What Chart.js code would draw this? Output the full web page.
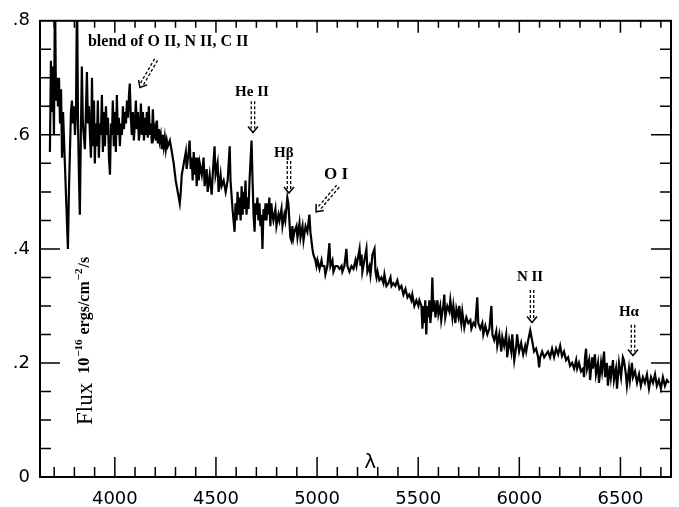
<!DOCTYPE html>
<html>
<head>
<meta charset="utf-8">
<script src="https://cdn.jsdelivr.net/npm/chart.js@4"></script>
<style>
  html, body { margin: 0; padding: 0; background: #fff; }
</style>
</head>
<body>
<canvas id="myChart" width="679" height="507"></canvas>
<script>
// spectrum: wavelength (Angstrom) and flux (1e-16 erg/cm2/s)
var wavelength = [
  3679, 3684, 3689, 3694, 3699, 3704, 3709, 3714, 3719, 3724, 3729, 3734, 3739, 3744, 3753, 3763, 3768, 3773,
  3783, 3788, 3793, 3798, 3803, 3808, 3813, 3818, 3823, 3827, 3832, 3837, 3842, 3852, 3862, 3867, 3872, 3877,
  3882, 3887, 3892, 3897, 3901, 3906, 3911, 3916, 3921, 3926, 3931, 3936, 3941, 3946, 3951, 3956, 3961, 3966,
  3971, 3976, 3981, 3986, 3990, 3995, 4000, 4005, 4010, 4015, 4020, 4025, 4030, 4035, 4040, 4045, 4050, 4055,
  4060, 4065, 4070, 4074, 4079, 4084, 4089, 4094, 4099, 4104, 4109, 4114, 4119, 4124, 4129, 4134, 4139, 4144,
  4149, 4153, 4158,
  4163, 4168, 4173, 4178, 4183, 4188, 4193, 4198, 4203, 4208, 4213, 4218, 4222, 4227, 4232, 4237, 4242, 4247,
  4252, 4257, 4262, 4272, 4282, 4291, 4301, 4311, 4321,
  4326, 4331, 4341, 4351, 4355, 4365, 4370, 4375, 4380, 4385, 4390, 4395, 4400, 4405, 4410, 4415, 4420, 4430,
  4439, 4444, 4454, 4459, 4469, 4479, 4484, 4493, 4498, 4508, 4513, 4523, 4528, 4538, 4548, 4558, 4568, 4572,
  4582, 4592, 4597, 4602, 4607, 4612, 4617, 4622, 4627, 4632, 4636, 4641, 4646, 4651, 4656, 4661, 4666, 4676,
  4681, 4686, 4691, 4695, 4700, 4705, 4710, 4715, 4720, 4725, 4730, 4735, 4740, 4745, 4750, 4754, 4759, 4764,
  4769, 4774, 4779, 4784, 4794, 4799, 4809, 4814, 4824, 4829, 4838, 4843, 4853, 4858, 4863, 4868, 4873, 4878,
  4883, 4888, 4898, 4903, 4913, 4918, 4928, 4933, 4943, 4952, 4962, 4967, 4977, 4982, 4992, 4997, 5002, 5012,
  5022, 5026, 5036, 5041, 5051, 5061, 5066, 5076, 5081, 5091, 5101, 5111, 5121, 5125, 5135, 5145, 5150, 5160,
  5170, 5180, 5190, 5195, 5205, 5210, 5215, 5220, 5224, 5234, 5244, 5249, 5259, 5264, 5274, 5284, 5289, 5294,
  5299, 5308, 5318, 5328, 5333, 5343, 5353, 5363, 5368, 5377, 5387, 5397, 5407, 5417, 5427, 5437, 5447, 5456,
  5466, 5471, 5481, 5491, 5501, 5506, 5516, 5521, 5526, 5530, 5535, 5540, 5545, 5550, 5555, 5560, 5565, 5570,
  5575, 5580, 5585, 5595, 5600, 5609, 5614, 5624, 5629, 5634, 5644, 5654, 5659, 5669, 5674, 5684, 5689, 5699,
  5703, 5713, 5718, 5728, 5738, 5748, 5758, 5763, 5773, 5782, 5792, 5797, 5807, 5817, 5822, 5832, 5842, 5852,
  5862, 5867, 5876, 5886, 5891, 5901, 5911, 5916, 5925, 5935, 5940, 5950, 5960, 5965, 5975, 5985, 5989, 5999,
  6009, 6019, 6029, 6034, 6044, 6054, 6063, 6073, 6083, 6093, 6098, 6103, 6113, 6123, 6132, 6142, 6152, 6162,
  6172, 6182, 6192, 6202, 6211, 6221, 6231, 6241, 6251, 6261, 6271, 6281, 6286, 6295, 6305, 6315, 6320, 6325,
  6330, 6335, 6345, 6350, 6360, 6364, 6374, 6379, 6389, 6394, 6404, 6409, 6419, 6424, 6433, 6438, 6448, 6453,
  6463, 6468, 6478, 6483, 6493, 6503, 6512, 6517, 6527, 6532, 6542, 6547, 6557, 6562, 6572, 6582, 6592, 6601,
  6611, 6621, 6631, 6641, 6651, 6661, 6671, 6680, 6690, 6700, 6710, 6720, 6730, 6740
];
var flux = [
  0.57, 0.73, 0.64, 0.72, 0.60, 0.86, 0.66, 0.70, 0.65, 0.70, 0.62, 0.68, 0.56, 0.64, 0.55, 0.45, 0.40, 0.50,
  0.64, 0.66, 0.62, 0.65, 0.60, 0.64, 0.86, 0.62, 0.52, 0.46, 0.60, 0.72, 0.62, 0.575, 0.71, 0.62, 0.65, 0.60,
  0.56, 0.70, 0.58, 0.66, 0.55, 0.62, 0.58, 0.66, 0.56, 0.62, 0.60, 0.67, 0.57, 0.64, 0.58, 0.65, 0.60, 0.63,
  0.56, 0.53, 0.62, 0.60, 0.66, 0.58, 0.64, 0.57, 0.67, 0.60, 0.63, 0.58, 0.62, 0.60, 0.65, 0.61, 0.64, 0.62,
  0.66, 0.63, 0.67, 0.69, 0.63, 0.60, 0.64, 0.59, 0.62, 0.66, 0.61, 0.64, 0.59, 0.61, 0.655, 0.60, 0.64, 0.59,
  0.63, 0.60, 0.64,
  0.595, 0.65, 0.60, 0.62, 0.585, 0.645, 0.60, 0.61, 0.59, 0.625, 0.585, 0.61, 0.59, 0.60, 0.575, 0.60, 0.58, 0.595,
  0.575, 0.59, 0.58, 0.59, 0.57, 0.55, 0.52, 0.50, 0.48,
  0.50, 0.53, 0.55, 0.57, 0.54, 0.57, 0.59, 0.54, 0.56, 0.52, 0.57, 0.53, 0.56, 0.51, 0.56, 0.52, 0.55, 0.53,
  0.56, 0.51, 0.54, 0.50, 0.53, 0.495, 0.53, 0.58, 0.53, 0.55, 0.50, 0.53, 0.51, 0.52, 0.50, 0.52, 0.58, 0.52,
  0.47, 0.43, 0.48, 0.45, 0.50, 0.46, 0.49, 0.45, 0.51, 0.46, 0.50, 0.47, 0.52, 0.46, 0.49, 0.47, 0.52, 0.59,
  0.52, 0.46, 0.43, 0.48, 0.46, 0.49, 0.45, 0.48, 0.44, 0.46, 0.40, 0.47, 0.45, 0.48, 0.45, 0.48, 0.46, 0.49,
  0.44, 0.48, 0.46, 0.45, 0.47, 0.44, 0.46, 0.45, 0.47, 0.44, 0.46, 0.45, 0.49, 0.48, 0.45, 0.42, 0.415, 0.44,
  0.42, 0.43, 0.44, 0.42, 0.445, 0.42, 0.44, 0.415, 0.44, 0.43, 0.46, 0.43, 0.40, 0.39, 0.38, 0.37, 0.38, 0.365,
  0.38, 0.37, 0.37, 0.355, 0.37, 0.41, 0.37, 0.38, 0.36, 0.37, 0.37, 0.365, 0.37, 0.36, 0.37, 0.40, 0.37, 0.36,
  0.37, 0.365, 0.38, 0.37, 0.39, 0.40, 0.37, 0.39, 0.36, 0.38, 0.40, 0.36, 0.37, 0.355, 0.39, 0.40, 0.36, 0.35,
  0.36, 0.345, 0.35, 0.34, 0.355, 0.335, 0.34, 0.35, 0.335, 0.34, 0.335, 0.345, 0.33, 0.335, 0.32, 0.33, 0.315, 0.32,
  0.31, 0.32, 0.30, 0.31, 0.30, 0.31, 0.30, 0.26, 0.30, 0.27, 0.31, 0.25, 0.30, 0.28, 0.31, 0.27, 0.29, 0.35,
  0.29, 0.31, 0.28, 0.31, 0.285, 0.30, 0.275, 0.30, 0.32, 0.28, 0.30, 0.29, 0.31, 0.28, 0.30, 0.27, 0.295, 0.28,
  0.30, 0.27, 0.29, 0.262, 0.28, 0.27, 0.275, 0.26, 0.27, 0.265, 0.315, 0.27, 0.26, 0.27, 0.25, 0.265, 0.25, 0.26,
  0.30, 0.25, 0.24, 0.255, 0.23, 0.25, 0.22, 0.245, 0.23, 0.25, 0.21, 0.24, 0.22, 0.25, 0.205, 0.23, 0.25, 0.22,
  0.235, 0.215, 0.23, 0.22, 0.24, 0.257, 0.24, 0.22, 0.225, 0.21, 0.192, 0.21, 0.22, 0.21, 0.215, 0.22, 0.21, 0.225,
  0.21, 0.225, 0.215, 0.23, 0.212, 0.22, 0.205, 0.21, 0.195, 0.20, 0.19, 0.205, 0.19, 0.20, 0.185, 0.19, 0.175, 0.21,
  0.225, 0.19, 0.205, 0.17, 0.21, 0.19, 0.215, 0.18, 0.20, 0.165, 0.20, 0.185, 0.22, 0.175, 0.20, 0.16, 0.195, 0.175,
  0.205, 0.17, 0.19, 0.155, 0.20, 0.175, 0.21, 0.205, 0.18, 0.16, 0.19, 0.17, 0.20, 0.175, 0.185, 0.165, 0.18, 0.16,
  0.175, 0.165, 0.18, 0.155, 0.175, 0.165, 0.18, 0.16, 0.17, 0.155, 0.175, 0.16, 0.17, 0.165
];
if (wavelength.length !== flux.length) console.error('length mismatch', wavelength.length, flux.length);

var xTicks = [4000, 4500, 5000, 5500, 6000, 6500];
var yTicks = [0, 0.2, 0.4, 0.6, 0.8];
var yTickLabels = ['0', '.2', '.4', '.6', '.8'];

// line identifications: label, arrow tip, arrow tail, label anchor (all in data units)
var lineNames = ['blend of O II, N II, C II', 'He II', 'H\u03B2', 'O I', 'N II', 'H\u03B1'];
var arrowTip  = [[4124, 0.683], [4683, 0.604], [4861, 0.498], [4995, 0.465], [6063, 0.271], [6562, 0.213]];
var arrowTail = [[4204, 0.732], [4683, 0.659], [4861, 0.554], [5103, 0.510], [6063, 0.328], [6562, 0.267]];
var labelAt   = [[3867, 0.755], [4678, 0.669], [4836, 0.562], [5094, 0.522], [6053, 0.344], [6542, 0.283]];

function dashedArrow(ctx, x1, y1, x2, y2) {
  var dx = x2 - x1, dy = y2 - y1, len = Math.hypot(dx, dy);
  var ux = dx / len, uy = dy / len, nx = -uy, ny = ux;
  ctx.lineWidth = 1.3;
  ctx.setLineDash([3, 2]);
  [-1.7, 1.7].forEach(function (o) {
    ctx.beginPath();
    ctx.moveTo(x1 + nx * o, y1 + ny * o);
    ctx.lineTo(x2 - ux * 4 + nx * o, y2 - uy * 4 + ny * o);
    ctx.stroke();
  });
  ctx.setLineDash([]);
  ctx.lineWidth = 1.5;
  ctx.beginPath();
  ctx.moveTo(x2 - ux * 6 + nx * 5, y2 - uy * 6 + ny * 5);
  ctx.lineTo(x2, y2);
  ctx.lineTo(x2 - ux * 6 - nx * 5, y2 - uy * 6 - ny * 5);
  ctx.stroke();
}

const framePlugin = {
  id: 'frame',
  afterDraw(chart) {
    var ctx = chart.ctx, a = chart.chartArea;
    var xs = chart.scales.x, ys = chart.scales.y;
    ctx.save();
    ctx.strokeStyle = '#000';
    ctx.fillStyle = '#000';
    ctx.lineWidth = 2;
    ctx.strokeRect(a.left, a.top, a.right - a.left, a.bottom - a.top);

    // inward ticks on all four sides
    ctx.lineWidth = 1.5;
    ctx.beginPath();
    for (var w = 3700; w <= 6700; w += 100) {
      var x = xs.getPixelForValue(w);
      var big = w % 500 === 0;
      ctx.moveTo(x, a.bottom); ctx.lineTo(x, a.bottom - (big ? 20 : 10));
      ctx.moveTo(x, a.top); ctx.lineTo(x, a.top + (big ? 12 : 7));
    }
    for (var i = 1; i < 16; i++) {
      var y = ys.getPixelForValue(i * 0.05);
      var len = i % 4 === 0 ? 20 : 11;
      ctx.moveTo(a.left, y); ctx.lineTo(a.left + len, y);
      ctx.moveTo(a.right, y); ctx.lineTo(a.right - len, y);
    }
    ctx.stroke();

    // identifications
    ctx.textBaseline = 'alphabetic';
    lineNames.forEach(function (name, k) {
      ctx.font = 'bold ' + (k === 0 ? 16 : k === 3 ? 17 : 15) + 'px "Liberation Serif", serif';
      ctx.textAlign = k === 0 ? 'left' : 'center';
      ctx.fillText(name, xs.getPixelForValue(labelAt[k][0]), ys.getPixelForValue(labelAt[k][1]));
      dashedArrow(ctx,
        xs.getPixelForValue(arrowTail[k][0]), ys.getPixelForValue(arrowTail[k][1]),
        xs.getPixelForValue(arrowTip[k][0]), ys.getPixelForValue(arrowTip[k][1]));
    });

    // x title inside the frame
    ctx.textAlign = 'center';
    ctx.font = '20px "DejaVu Sans", sans-serif';
    ctx.fillText('\u03BB', xs.getPixelForValue(5262), a.bottom - 9);

    // y title, rotated, inside the frame
    ctx.translate(a.left + 52, a.bottom - 52);
    ctx.rotate(-Math.PI / 2);
    ctx.textAlign = 'left';
    var parts = [
      ['Flux', '23px "Liberation Serif", serif', 0],
      ['  10', 'bold 16px "Liberation Serif", serif', -3],
      ['\u221216', 'bold 11px "Liberation Serif", serif', -10],
      [' ergs/cm', 'bold 16px "Liberation Serif", serif', -3],
      ['\u22122', 'bold 11px "Liberation Serif", serif', -10],
      ['/s', 'bold 16px "Liberation Serif", serif', -3]
    ];
    var pos = 0;
    parts.forEach(function (p) {
      ctx.font = p[1];
      ctx.fillText(p[0], pos, p[2]);
      pos += ctx.measureText(p[0]).width + 1;
    });
    ctx.restore();
  }
};

new Chart('myChart', {
  type: 'line',
  data: {
    datasets: [{
      data: wavelength.map(function (w, i) { return { x: w, y: flux[i] }; }),
      borderColor: '#000',
      borderWidth: 2.2,
      pointRadius: 0,
      tension: 0,
      fill: false
    }]
  },
  options: {
    responsive: false,
    animation: false,
    layout: { padding: { top: 19, right: 8, left: 0, bottom: 0 } },
    plugins: { legend: { display: false }, tooltip: { enabled: false } },
    scales: {
      x: {
        type: 'linear',
        min: 3630,
        max: 6750,
        grid: { display: false, drawTicks: false },
        border: { display: false },
        afterBuildTicks: function (s) { s.ticks = xTicks.map(function (v) { return { value: v }; }); },
        afterFit: function (s) { s.height = 30; },
        ticks: {
          color: '#000',
          padding: 12,
          maxRotation: 0,
          autoSkip: false,
          font: { family: 'DejaVu Sans', size: 18 },
          callback: function (v) { return String(v); }
        }
      },
      y: {
        min: 0,
        max: 0.8,
        grid: { display: false, drawTicks: false },
        border: { display: false },
        afterBuildTicks: function (s) { s.ticks = yTicks.map(function (v) { return { value: v }; }); },
        afterFit: function (s) { s.width = 40; },
        ticks: {
          color: '#000',
          padding: 10,
          font: { family: 'DejaVu Sans', size: 18 },
          callback: function (v, i) { return yTickLabels[i]; }
        }
      }
    }
  },
  plugins: [framePlugin]
});
</script>
</body>
</html>
